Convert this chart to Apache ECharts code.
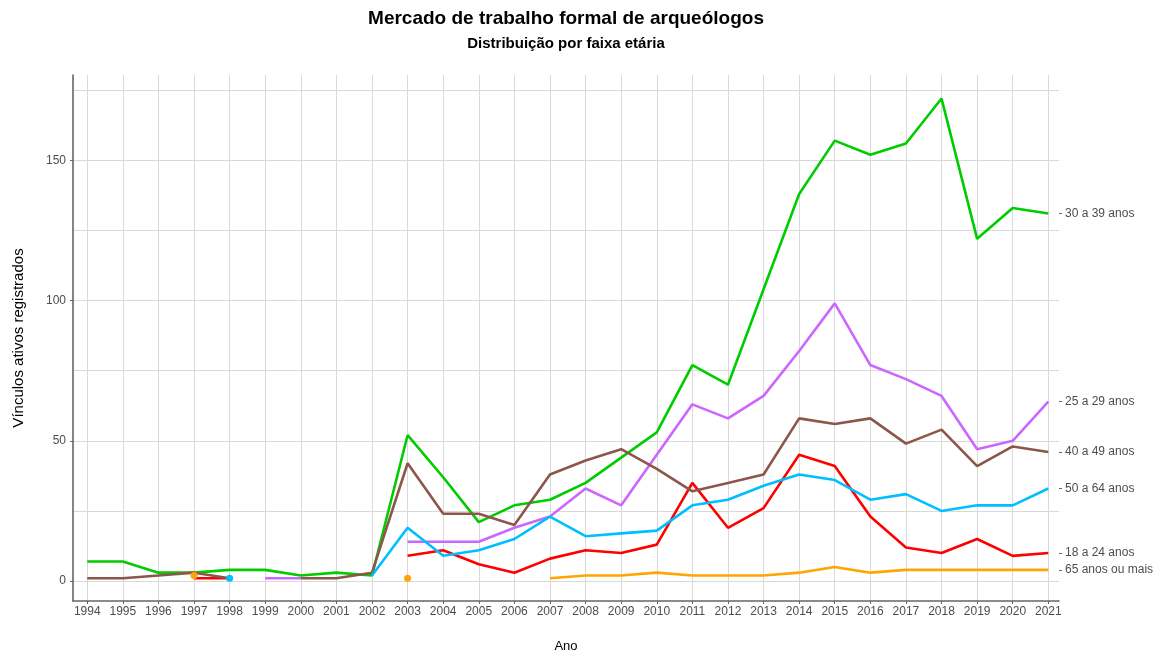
<!DOCTYPE html>
<html>
<head>
<meta charset="utf-8">
<script src="https://cdn.jsdelivr.net/npm/echarts@6.0.0/dist/echarts.min.js"></script>
<style>
html,body{margin:0;padding:0;background:#fff;overflow:hidden;}
#chart{width:1160px;height:655px;}
</style>
</head>
<body>
<div id="chart"></div>
<script>
// ---- Data ----
const years = [1994,1995,1996,1997,1998,1999,2000,2001,2002,2003,2004,2005,2006,2007,2008,2009,2010,2011,2012,2013,2014,2015,2016,2017,2018,2019,2020,2021];
const seriesNames = ["18 a 24 anos","25 a 29 anos","30 a 39 anos","40 a 49 anos","50 a 64 anos","65 anos ou mais"];
const v18a24 = [null,null,null,1,1,null,null,null,null,9,11,6,3,8,11,10,13,35,19,26,45,41,23,12,10,15,9,10];
const v25a29 = [null,null,null,null,null,1,1,null,null,14,14,14,19,23,33,27,45,63,58,66,82,99,77,72,66,47,50,64];
const v30a39 = [7,7,3,3,4,4,2,3,2,52,37,21,27,29,35,44,53,77,70,104,138,157,152,156,172,122,133,131];
const v40a49 = [1,1,2,3,1,null,1,1,3,42,24,24,20,38,43,47,40,32,35,38,58,56,58,49,54,41,48,46];
const v50a64 = [null,null,null,null,1,null,null,null,2,19,9,11,15,23,16,17,18,27,29,34,38,36,29,31,25,27,27,33];
const v65mais = [null,null,null,2,null,null,null,null,null,1,null,null,null,1,2,2,3,2,2,2,3,5,3,4,4,4,4,4];
const yTickLabels = [0,50,100,150];
const yGridValues = [0,25,50,75,100,125,150,175];

const seriesValues = [v18a24, v25a29, v30a39, v40a49, v50a64, v65mais];
const colors = ["#FF0000","#CC66FF","#00CC00","#8C564B","#00BFFF","#FFA500"];

const chart = echarts.init(document.getElementById('chart'));
const textColor = '#4d4d4d';
const font = 'Liberation Sans, Arial, sans-serif';

const lastValues = seriesValues.map(a => a[a.length-1]);

const lineSeries = seriesValues.map((vals, k) => ({
  name: seriesNames[k],
  type: 'line',
  xAxisIndex: 0, yAxisIndex: 0,
  symbol: 'none',
  data: years.map((y,i) => [y, vals[i] == null ? '-' : vals[i]]),
  lineStyle: {color: colors[k], width: 2.6},
  itemStyle: {color: colors[k]},
  silent: true,
  animation: false,
  z: 3
}));

const pointSeries = seriesValues.map((vals, k) => {
  const pts = [];
  vals.forEach((v,i) => {
    if (v == null) return;
    const prev = i > 0 ? vals[i-1] : null;
    const next = i < vals.length-1 ? vals[i+1] : null;
    if (prev == null && next == null) pts.push([years[i], v]);
  });
  return {
    type: 'scatter', xAxisIndex: 0, yAxisIndex: 0,
    symbol: 'circle', symbolSize: 7,
    itemStyle: {color: colors[k], opacity: 1},
    data: pts, animation: false, silent: true, z: 4
  };
}).filter(s => s.data.length);

const option = {
  backgroundColor: '#ffffff',
  animation: false,
  title: [
    {text: 'Mercado de trabalho formal de arqueólogos', left: 566, top: 9, textAlign: 'center', padding: 0,
     textStyle: {fontSize: 19, fontWeight: 'bold', color: '#000', fontFamily: font}},
    {text: 'Distribuição por faixa etária', left: 566, top: 36, textAlign: 'center', padding: 0,
     textStyle: {fontSize: 15, fontWeight: 'bold', color: '#000', fontFamily: font}}
  ],
  grid: {left: 73, right: 101, top: 75, bottom: 54, containLabel: false, outerBoundsMode: 'none'},
  xAxis: [{
    type: 'value', min: 1993.6, max: 2021.3,
    name: 'Ano', nameLocation: 'middle', nameGap: 39,
    nameTextStyle: {fontSize: 13, color: '#000', fontFamily: font},
    axisLine: {show: true, onZero: false, lineStyle: {color: '#666', width: 1.6}},
    axisTick: {show: true, length: 3, customValues: years, lineStyle: {color: '#666'}},
    axisLabel: {customValues: years, fontSize: 12, color: textColor, margin: 5, fontFamily: font,
      formatter: v => String(v)},
    splitLine: {show: true, lineStyle: {color: '#d9d9d9', width: 1}}
  }],
  yAxis: [{
    type: 'value', min: -7.1, max: 180.4, position: 'left',
    name: 'Vínculos ativos registrados', nameLocation: 'middle', nameGap: 47, nameRotate: 90,
    nameTextStyle: {fontSize: 15, color: '#000', fontFamily: font},
    axisLine: {show: true, onZero: false, lineStyle: {color: '#666', width: 1.6}},
    axisTick: {show: false, customValues: yGridValues},
    axisLabel: {customValues: yTickLabels, fontSize: 12, color: textColor, margin: 7, fontFamily: font},
    splitLine: {show: true, lineStyle: {color: '#d9d9d9', width: 1}}
  }, {
    type: 'value', min: -7.1, max: 180.4, position: 'right',
    axisLine: {show: false},
    axisTick: {show: true, length: 3, customValues: lastValues, lineStyle: {color: '#666'}},
    axisLabel: {customValues: lastValues, fontSize: 12, color: textColor, margin: 6, fontFamily: font,
      formatter: v => { const k = lastValues.indexOf(v); return k >= 0 ? seriesNames[k] : ''; }},
    splitLine: {show: false}
  }, {
    type: 'value', min: -7.1, max: 180.4, position: 'left', offset: 0,
    axisLine: {show: false},
    axisTick: {show: true, length: 3, customValues: yTickLabels, lineStyle: {color: '#666'}},
    axisLabel: {show: false},
    splitLine: {show: false}
  }],
  series: lineSeries.concat(pointSeries)
};
chart.setOption(option);
</script>
</body>
</html>
